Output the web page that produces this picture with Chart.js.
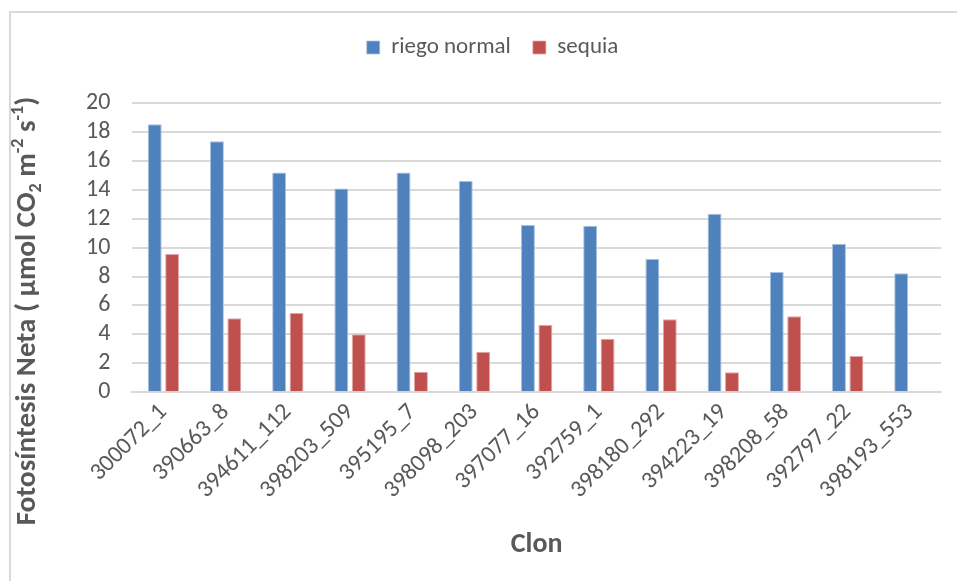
<!DOCTYPE html>
<html>
<head>
<meta charset="utf-8">
<script src="https://cdn.jsdelivr.net/npm/chart.js@4"></script>
<style>
  html, body { margin: 0; padding: 0; background: #fff; }
  #wrap { position: relative; width: 957px; height: 581px; overflow: hidden; }
  #frame { position: absolute; left: 9px; top: 11px; width: 1000px; height: 700px; border: 2px solid #d9d9d9; box-sizing: border-box; }
  canvas { position: absolute; left: 0; top: 0; }
</style>
</head>
<body>
<div id="wrap">
  <div id="frame"></div>
  <canvas id="chart" width="957" height="581"></canvas>
</div>
<script>
const clones = ["300072_1", "390663_8", "394611_112", "398203_509", "395195_7", "398098_203",
  "397077_16", "392759_1", "398180_292", "394223_19", "398208_58", "392797_22", "398193_553"];
const riegoNormal = [18.53, 17.36, 15.19, 14.09, 15.19, 14.6, 11.56, 11.51, 9.21, 12.34, 8.31, 10.27, 8.22];
const sequia = [9.56, 5.11, 5.48, 4.0, 1.41, 2.79, 4.64, 3.69, 5.04, 1.38, 5.25, 2.51, null];
const yTicks = [0, 2, 4, 6, 8, 10, 12, 14, 16, 18, 20];

const fontFamily = "Carlito, Lato, 'Open Sans', sans-serif";
const textColor = "#595959";

// y axis title with real sub/superscripts, drawn like the Excel one
const yTitlePlugin = {
  id: 'yTitle',
  afterDraw(chart) {
    const ctx = chart.ctx;
    const size = 29;
    const small = 18;
    const parts = [
      { t: "Fotosíntesis Neta ( µmol CO", s: size, dy: 0 },
      { t: "2", s: small, dy: 8 },
      { t: " m", s: size, dy: 0 },
      { t: "-2", s: small, dy: -10 },
      { t: " s", s: size, dy: 0 },
      { t: "-1", s: small, dy: -10 },
      { t: ")", s: size, dy: 0 }
    ];
    ctx.save();
    ctx.fillStyle = textColor;
    ctx.textBaseline = 'middle';
    ctx.textAlign = 'left';
    let total = 0;
    parts.forEach(p => {
      ctx.font = `bold ${p.s}px ${fontFamily}`;
      p.w = ctx.measureText(p.t).width;
      total += p.w;
    });
    ctx.translate(28, 311);
    ctx.rotate(-Math.PI / 2);
    let x = -total / 2;
    parts.forEach(p => {
      ctx.font = `bold ${p.s}px ${fontFamily}`;
      ctx.fillText(p.t, x, p.dy);
      x += p.w;
    });
    ctx.restore();
  }
};

// extra space under the legend, and nudge it left like in Excel
const legendSpacing = {
  id: 'legendSpacing',
  beforeInit(chart) {
    const fit = chart.legend.fit;
    chart.legend.fit = function () {
      fit.bind(chart.legend)();
      this.height += 34;
    };
  },
  afterLayout(chart) {
    chart.legend.left -= 10;
    chart.legend.right -= 10;
  }
};

new Chart(document.getElementById("chart"), {
  type: 'bar',
  data: {
    labels: clones,
    datasets: [
      {
        label: "riego normal",
        data: riegoNormal,
        backgroundColor: '#4f81bd',
        borderColor: '#a9c1e0',
        borderWidth: { top: 1, left: 1, right: 1, bottom: 0 },
        barPercentage: 0.8,
        categoryPercentage: 0.56
      },
      {
        label: "sequia",
        data: sequia,
        backgroundColor: '#c0504d',
        borderColor: '#e0a9a7',
        borderWidth: { top: 1, left: 1, right: 1, bottom: 0 },
        barPercentage: 0.8,
        categoryPercentage: 0.56
      }
    ]
  },
  options: {
    responsive: false,
    animation: false,
    layout: { padding: { top: 14, right: 16, bottom: 19, left: 64 } },
    plugins: {
      legend: {
        position: 'top',
        labels: {
          boxWidth: 13,
          boxHeight: 13,
          padding: 22,
          color: textColor,
          font: { family: fontFamily, size: 23 }
        }
      },
      tooltip: { enabled: false }
    },
    scales: {
      x: {
        grid: { display: false, drawTicks: false },
        border: { color: '#d9d9d9', width: 2 },
        ticks: {
          color: textColor,
          font: { family: fontFamily, size: 24 },
          maxRotation: 45,
          minRotation: 45,
          autoSkip: false,
          padding: 6
        },
        title: {
          display: true,
          text: "Clon",
          color: textColor,
          font: { family: fontFamily, size: 28, weight: 'bold' },
          padding: { top: 18, bottom: 0 }
        }
      },
      y: {
        min: 0,
        max: 20,
        afterBuildTicks: (axis) => { axis.ticks = yTicks.map(v => ({ value: v })); },
        grid: { color: '#d9d9d9', lineWidth: 2, drawTicks: false },
        border: { display: false },
        ticks: {
          color: textColor,
          font: { family: fontFamily, size: 24 },
          autoSkip: false,
          padding: 22
        }
      }
    }
  },
  plugins: [yTitlePlugin, legendSpacing]
});
</script>
</body>
</html>
